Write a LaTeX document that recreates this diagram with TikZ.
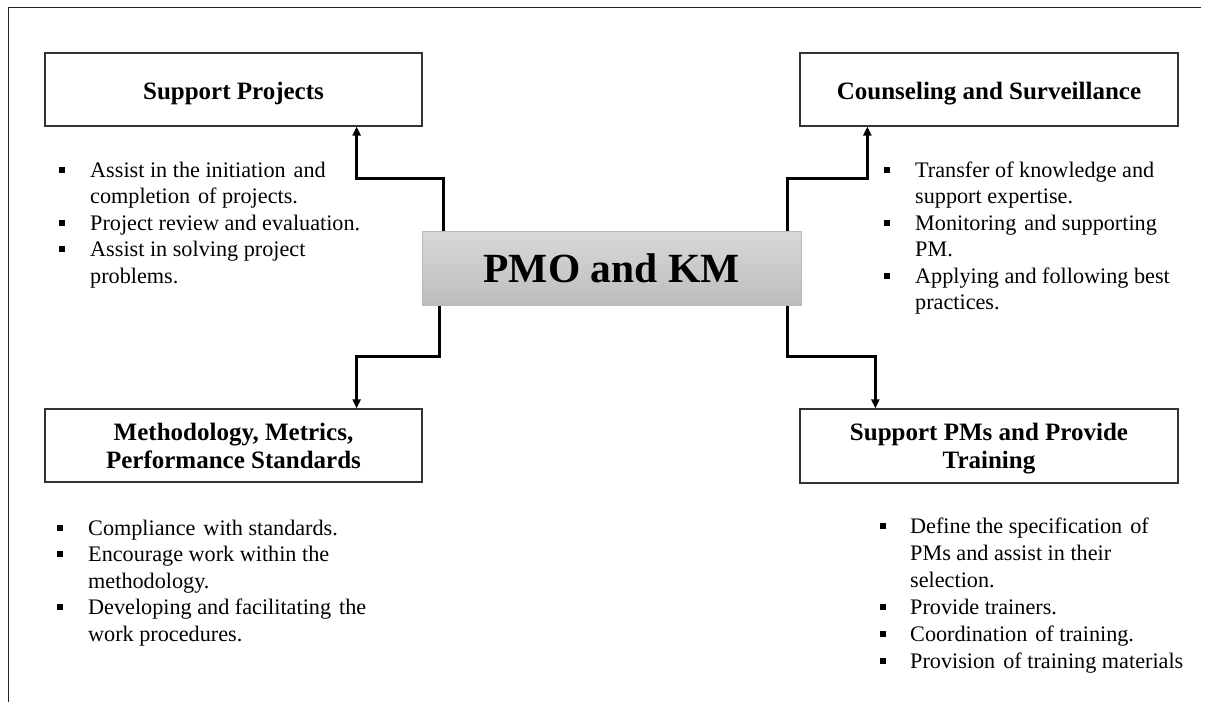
\documentclass[tikz,border=0pt]{standalone}
\usepackage{fontspec}
\setmainfont{Liberation Serif}
\usetikzlibrary{arrows.meta}

% square bullet, widened word gap and list helpers
\newcommand{\sqb}{\rule[4.5pt]{5.8pt}{5.8pt}}
\newcommand{\wsp}{\hspace{8pt}}
\newcommand{\listfont}{\fontsize{22.2}{26.5}\selectfont}
\newcommand{\titlefont}{\fontsize{25}{28}\selectfont\bfseries}

\tikzset{
  x=1pt, y=-1pt,
  titlebox/.style={draw=black!80, line width=1.3pt, fill=white,
    minimum height=73pt, inner sep=0pt, align=center, font=\titlefont,
    text depth=0pt},
  centerbox/.style={draw=gray!55, line width=1pt,
    top color=gray!30, bottom color=gray!52,
    minimum width=379pt, minimum height=74pt, inner sep=0pt,
    font=\fontsize{41.5}{48}\selectfont\bfseries},
  conn/.style={line width=2.4pt, -{Triangle[length=9pt,width=8pt]}},
  bullets/.style={anchor=base west, inner sep=0pt, font=\listfont}
}

\begin{document}
\begin{tikzpicture}
\useasboundingbox (0,0) rectangle (1205,702);

% frame lines along the top and left edge
\draw[line width=1pt, black!85] (8,702) -- (8,7) -- (1201,7);

% central block
\node[centerbox] (pmo) at (611.5,268) {PMO and KM};

% the four function boxes
\node[titlebox, minimum width=377pt] (sp) at (233.5,89.5) {\raisebox{-2pt}{Support Projects}};
\node[titlebox, minimum width=378pt] (cs) at (989,89.5) {\raisebox{-2pt}{Counseling and Surveillance}};
\node[titlebox, minimum width=377pt] (ms) at (233.5,445.5)
  {Methodology, Metrics,\\Performance Standards};
\node[titlebox, minimum width=378pt, minimum height=74pt] (pt) at (989,446)
  {Support PMs and Provide\\Training};

% stepped connectors from the central block
\draw[conn] ([xshift=22pt]pmo.north west) -- ++(0,-52) -| ([xshift=-66pt]sp.south east);
\draw[conn] ([xshift=18pt]pmo.south west) -- ++(0,51) -| ([xshift=-66pt]ms.north east);
\draw[conn] ([xshift=-14pt]pmo.north east) -- ++(0,-52) -| ([xshift=68pt]cs.south west);
\draw[conn] ([xshift=-14pt]pmo.south east) -- ++(0,51) -| ([xshift=76pt]pt.north west);

% bullet lists
\node[bullets] (sp-list) at (59,177) {%
  \begin{tabular}[t]{@{}l@{}l@{}}
  \makebox[31pt][l]{\sqb} & Assist in the initiation\wsp and\\
  & completion\wsp of projects.\\
  \makebox[31pt][l]{\sqb} & Project review and evaluation.\\
  \makebox[31pt][l]{\sqb} & Assist in solving project\\
  & problems.
  \end{tabular}};

\node[bullets] (cs-list) at (884,177) {%
  \begin{tabular}[t]{@{}l@{}l@{}}
  \makebox[31pt][l]{\sqb} & Transfer of knowledge and\\
  & support expertise.\\
  \makebox[31pt][l]{\sqb} & Monitoring\wsp and supporting\\
  & PM.\\
  \makebox[31pt][l]{\sqb} & Applying and following best\\
  & practices.
  \end{tabular}};

\node[bullets] (ms-list) at (57,535) {%
  \begin{tabular}[t]{@{}l@{}l@{}}
  \makebox[31pt][l]{\sqb} & Compliance\wsp with standards.\\
  \makebox[31pt][l]{\sqb} & Encourage work within the\\
  & methodology.\\
  \makebox[31pt][l]{\sqb} & Developing and facilitating\wsp the\\
  & work procedures.
  \end{tabular}};

\node[bullets] (pt-list) at (880,533) {%
  \fontsize{22.2}{27}\selectfont
  \begin{tabular}[t]{@{}l@{}l@{}}
  \makebox[30pt][l]{\sqb} & Define the specification\wsp of\\
  & PMs and assist in their\\
  & selection.\\
  \makebox[30pt][l]{\sqb} & Provide trainers.\\
  \makebox[30pt][l]{\sqb} & Coordination\wsp of training.\\
  \makebox[30pt][l]{\sqb} & Provision\wsp of training materials
  \end{tabular}};
\end{tikzpicture}
\end{document}
